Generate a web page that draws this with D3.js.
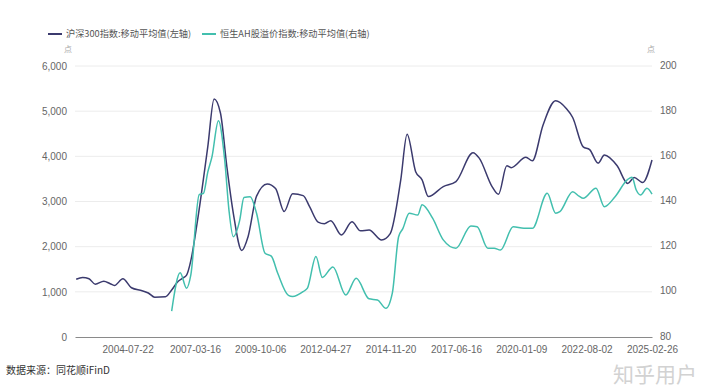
<!DOCTYPE html>
<html>
<head>
<meta charset="utf-8">
<script src="https://cdn.jsdelivr.net/npm/d3@7"></script>
<style>
  body { margin: 0; background: #fff; }
  svg { display: block; font-family: "Noto Sans CJK SC", "Noto Sans", sans-serif; }
</style>
</head>
<body>
<div id="chart"></div>
<script>
// CSI 300 moving average (left axis)
const csiDates = ["2002-07-15","2002-10-15","2003-01-15","2003-04-15","2003-08-15","2003-11-15","2004-01-15","2004-05-15","2004-09-15","2005-02-15","2005-05-15","2005-08-15","2006-01-15","2006-04-15","2006-07-15","2006-09-15","2006-11-15","2007-01-15","2007-04-15","2007-09-15","2007-12-15","2008-03-15","2008-06-15","2008-09-15","2009-01-15","2009-04-15","2009-08-15","2010-01-15","2010-05-15","2010-09-15","2011-01-15","2011-06-15","2011-09-15","2012-01-15","2012-04-15","2012-07-15","2012-12-15","2013-05-15","2013-09-15","2014-01-15","2014-07-15","2014-11-15","2015-04-15","2015-07-15","2015-11-15","2016-02-15","2016-05-15","2016-12-15","2017-06-15","2018-02-15","2018-05-15","2018-11-15","2019-02-15","2019-06-15","2019-08-15","2020-03-15","2020-06-15","2020-11-15","2021-05-15","2021-10-15","2022-01-15","2022-06-15","2022-09-15","2023-01-15","2023-04-15","2023-10-15","2024-03-15","2024-06-15","2024-10-15","2025-02-26"];
const csiValues = [1280,1320,1290,1170,1235,1180,1140,1290,1090,1025,975,880,890,1040,1230,1300,1370,1690,2520,4210,5270,4960,3770,2745,1915,2220,3120,3390,3290,2780,3170,3130,2885,2545,2510,2575,2258,2550,2350,2370,2150,2290,3480,4490,3660,3480,3110,3330,3440,4080,3960,3330,3160,3790,3750,3980,3900,4690,5230,5060,4860,4210,4150,3850,4030,3790,3400,3530,3420,3920];

// Hang Seng AH premium index moving average (right axis)
const ahDates = ["2006-04-15","2006-08-15","2006-11-15","2007-01-15","2007-05-15","2007-07-15","2007-09-15","2007-11-15","2008-02-15","2008-05-15","2008-07-15","2008-09-15","2008-12-15","2009-02-15","2009-05-15","2009-08-15","2009-12-15","2010-03-15","2010-06-15","2010-11-15","2011-01-15","2011-06-15","2011-08-15","2011-12-15","2012-03-15","2012-08-15","2013-02-15","2013-07-15","2014-01-15","2014-05-15","2014-09-15","2014-12-15","2015-03-15","2015-05-15","2015-08-15","2015-12-15","2016-02-15","2016-07-15","2016-12-15","2017-06-15","2018-01-15","2018-04-15","2018-09-15","2018-12-15","2019-03-15","2019-09-15","2020-02-15","2020-06-15","2021-01-15","2021-05-15","2021-07-15","2022-01-15","2022-04-15","2022-06-15","2022-12-15","2023-04-15","2023-09-15","2024-03-15","2024-05-15","2024-07-15","2024-09-15","2024-12-15","2025-02-26"];
const ahValues = [91.5,108.4,101.6,107.5,143.0,143.6,153.0,159.9,175.8,158.4,136.2,124.4,131.5,141.8,142.1,134.8,117.1,115.8,108.2,98.4,97.9,100.1,101.6,115.6,106.4,111.0,98.6,106.0,96.9,96.4,92.7,99.4,124.4,128.0,134.8,134.0,138.6,132.6,123.0,119.3,129.2,128.8,119.3,119.3,118.5,128.8,128.1,128.1,143.6,134.8,135.5,144.3,142.4,141.4,145.9,137.7,142.1,149.8,150.7,145.1,142.9,145.9,143.3];

const leftTicks = [0, 1000, 2000, 3000, 4000, 5000, 6000];
const rightTicks = [80, 100, 120, 140, 160, 180, 200];
const xTickLabels = ["2004-07-22","2007-03-16","2009-10-06","2012-04-27","2014-11-20","2017-06-16","2020-01-09","2022-08-02","2025-02-26"];

const legendNames = ["沪深300指数:移动平均值(左轴)", "恒生AH股溢价指数:移动平均值(右轴)"];
const colors = ["#3b3a6e", "#42bfae"];

const width = 720, height = 388;
const margin = { top: 66, right: 68, bottom: 51, left: 75 };
const innerW = width - margin.left - margin.right;
const innerH = height - margin.top - margin.bottom;

const parse = d3.timeParse("%Y-%m-%d");
const csi = csiDates.map((d, i) => ({ date: parse(d), value: csiValues[i] }));
const ah = ahDates.map((d, i) => ({ date: parse(d), value: ahValues[i] }));

const svg = d3.select("#chart").append("svg")
  .attr("width", width).attr("height", height);

const g = svg.append("g")
  .attr("transform", `translate(${margin.left},${margin.top})`);

const x = d3.scaleTime()
  .domain([parse("2002-06-28"), parse("2025-02-26")])
  .range([0, innerW]);

const yL = d3.scaleLinear().domain([0, 6000]).range([innerH, 0]);
const yR = d3.scaleLinear().domain([80, 200]).range([innerH, 0]);

// gridlines
g.append("g")
  .selectAll("line")
  .data(leftTicks.slice(1))
  .join("line")
  .attr("x1", 0).attr("x2", innerW)
  .attr("y1", d => yL(d)).attr("y2", d => yL(d))
  .attr("stroke", "#ececec");

// left axis labels
g.append("g")
  .call(d3.axisLeft(yL).tickValues(leftTicks).tickFormat(d3.format(",")).tickSize(0).tickPadding(8))
  .call(a => a.select(".domain").remove())
  .selectAll("text")
  .style("fill", "#666").style("font-size", "10px");

// right axis labels
g.append("g")
  .attr("transform", `translate(${innerW},0)`)
  .call(d3.axisRight(yR).tickValues(rightTicks).tickSize(0).tickPadding(8))
  .call(a => a.select(".domain").remove())
  .selectAll("text")
  .attr("dy", "0.2em")
  .style("fill", "#666").style("font-size", "10px");

// bottom axis
g.append("g")
  .attr("transform", `translate(0,${innerH})`)
  .call(d3.axisBottom(x)
    .tickValues(xTickLabels.map(parse))
    .tickFormat(d3.timeFormat("%Y-%m-%d"))
    .tickSize(0).tickPadding(9))
  .call(a => a.select(".domain").attr("stroke", "#8a8a8a"))
  .selectAll("text")
  .style("fill", "#666").style("font-size", "10px");

// unit labels
svg.append("text").attr("x", 72).attr("y", 52).attr("text-anchor", "end")
  .style("font-size", "8px").style("fill", "#aaa").text("点");
svg.append("text").attr("x", 647).attr("y", 52)
  .style("font-size", "8px").style("fill", "#aaa").text("点");

// lines
const lineL = d3.line().x(d => x(d.date)).y(d => yL(d.value)).curve(d3.curveMonotoneX);
const lineR = d3.line().x(d => x(d.date)).y(d => yR(d.value)).curve(d3.curveMonotoneX);

g.append("path").datum(csi)
  .attr("fill", "none").attr("stroke", colors[0]).attr("stroke-width", 1.5)
  .attr("d", lineL);

g.append("path").datum(ah)
  .attr("fill", "none").attr("stroke", colors[1]).attr("stroke-width", 1.5)
  .attr("d", lineR);

// legend
const legendX = [48, 202];
legendNames.forEach((name, i) => {
  const lg = svg.append("g").attr("transform", `translate(${legendX[i]},34)`);
  lg.append("line").attr("x1", 0).attr("x2", 14).attr("y1", 0).attr("y2", 0)
    .attr("stroke", colors[i]).attr("stroke-width", 2);
  lg.append("text").attr("x", 18).attr("dy", "0.35em")
    .style("font-size", "9.2px").style("fill", "#555").text(name);
});

// source
svg.append("text").attr("x", 6).attr("y", 374)
  .style("font-size", "10px").style("fill", "#333").text("数据来源：同花顺iFinD");

// watermark
svg.append("text").attr("x", 613).attr("y", 382)
  .style("font-size", "21px").style("fill", "#d2d2d2").text("知乎用户");
</script>
</body>
</html>
